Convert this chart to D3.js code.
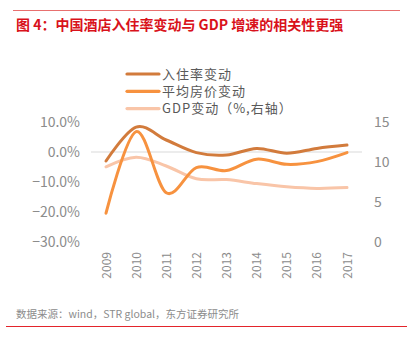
<!DOCTYPE html>
<html>
<head>
<meta charset="utf-8">
<script src="https://cdn.jsdelivr.net/npm/d3@7"></script>
<style>
  body { margin: 0; background: #fff; }
  svg { display: block; font-family: "Noto Sans CJK SC", "Noto Sans", sans-serif; }
</style>
</head>
<body>
<div id="chart"></div>
<script>
let width = 412;
let height = 352;

// data
let years = ["2009", "2010", "2011", "2012", "2013", "2014", "2015", "2016", "2017"];
let occupancy = [-3.0, 8.3, 4.0, -0.2, -1.0, 1.2, -0.4, 1.2, 2.3];
let avgRate = [-20.4, 6.8, -13.6, -5.2, -6.2, -2.4, -4.1, -3.2, -0.2];
let gdp = [9.4, 10.6, 9.5, 7.9, 7.8, 7.3, 6.9, 6.7, 6.8];
let leftTicks = [10, 0, -10, -20, -30];
let rightTicks = [15, 10, 5, 0];
let seriesNames = ["入住率变动", "平均房价变动", "GDP变动（%,右轴）"];
let colors = ["#D27B3C", "#F7923F", "#F9C5A8"];

let svg = d3.select("#chart").append("svg")
    .attr("width", width)
    .attr("height", height);

// header and footer rules
svg.append("line").attr("x1", 13).attr("x2", 400).attr("y1", 10.5).attr("y2", 10.5)
    .attr("stroke", "#E8706F").attr("stroke-width", 1);
svg.append("text").text("图 4：中国酒店入住率变动与 GDP 增速的相关性更强")
    .attr("x", 16).attr("y", 30)
    .attr("fill", "#D9121B").attr("font-size", 14).attr("font-weight", "bold");

svg.append("line").attr("x1", 6).attr("x2", 407).attr("y1", 326.5).attr("y2", 326.5)
    .attr("stroke", "#E3242B").attr("stroke-width", 1.2);
svg.append("text").text("数据来源：wind，STR global，东方证券研究所")
    .attr("x", 16).attr("y", 318)
    .attr("fill", "#8C8C8C").attr("font-size", 10.5);

// scales
let x = d3.scalePoint().domain(years).range([106, 347]);
let yLeft = d3.scaleLinear().domain([-30, 10]).range([242, 122]);
let yRight = d3.scaleLinear().domain([0, 15]).range([242, 122]);

// zero gridline
svg.append("line")
    .attr("x1", 91).attr("x2", 362)
    .attr("y1", yLeft(0)).attr("y2", yLeft(0))
    .attr("stroke", "#D9D9D9").attr("stroke-width", 1);

// left axis
let leftAxis = d3.axisLeft(yLeft).tickValues(leftTicks)
    .tickFormat(d => d3.format(".1f")(d) + "%").tickSize(0).tickPadding(0);
let leftG = svg.append("g").attr("transform", "translate(80,0)").call(leftAxis);
leftG.select(".domain").remove();
leftG.selectAll("text").attr("fill", "#8C8C8C").attr("font-size", 14)
    .attr("font-family", "'Noto Sans CJK SC', sans-serif");

// right axis
let rightAxis = d3.axisRight(yRight).tickValues(rightTicks).tickSize(0).tickPadding(0);
let rightG = svg.append("g").attr("transform", "translate(374,0)").call(rightAxis);
rightG.select(".domain").remove();
rightG.selectAll("text").attr("fill", "#8C8C8C").attr("font-size", 14)
    .attr("font-family", "'Noto Sans CJK SC', sans-serif");

// x labels, rotated
svg.append("g").selectAll("text").data(years).enter()
    .append("text")
    .text(d => d)
    .attr("transform", d => "translate(" + (x(d) + 4.5) + ",252) rotate(-90)")
    .attr("text-anchor", "end")
    .attr("fill", "#8C8C8C")
    .attr("font-size", 12);

// lines
let curve = d3.curveCardinal.tension(0);
let seriesList = [
    { values: occupancy, scale: yLeft },
    { values: avgRate, scale: yLeft },
    { values: gdp, scale: yRight }
];

// draw GDP first so the others sit on top
[2, 0, 1].forEach(function(i) {
    let s = seriesList[i];
    let line = d3.line()
        .x((d, j) => x(years[j]))
        .y(d => s.scale(d))
        .curve(curve);
    svg.append("path")
        .datum(s.values)
        .attr("d", line)
        .attr("fill", "none")
        .attr("stroke", colors[i])
        .attr("stroke-width", 3)
        .attr("stroke-linecap", "round");
});

// legend
let legend = svg.append("g").selectAll("g").data(seriesNames).enter()
    .append("g")
    .attr("transform", (d, i) => "translate(0," + (74 + i * 17.3) + ")");
legend.append("line")
    .attr("x1", 127).attr("x2", 159)
    .attr("y1", 0).attr("y2", 0)
    .attr("stroke", (d, i) => colors[i])
    .attr("stroke-width", 3.2)
    .attr("stroke-linecap", "round");
legend.append("text")
    .text(d => d)
    .attr("x", 162).attr("y", 4.5)
    .attr("fill", "#595959")
    .attr("font-size", 13)
    .attr("letter-spacing", 1);
</script>
</body>
</html>
